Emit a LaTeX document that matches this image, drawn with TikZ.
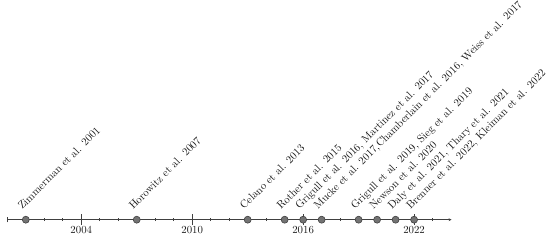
\documentclass[tikz,border=0pt]{standalone}
\usetikzlibrary{arrows.meta}
\begin{document}
\begin{tikzpicture}[x=1pt,y=1pt,
  txt/.style={font=\fontsize{10.8}{13}\selectfont, text=black!90},
  lab/.style={txt, rotate=45, anchor=base west, inner sep=0pt},
  yr/.style={txt, anchor=north, inner sep=0pt},
  dotc/.style={circle, fill=black!55, draw=black!75, line width=0.6pt, minimum size=7pt, inner sep=0pt},
  axisl/.style={draw=black!75, line width=0.65pt},
]
\useasboundingbox (0,0) rectangle (550,242);
\def\ax{22.3}
\pgfmathsetmacro{\xo}{7.3}
\pgfmathsetmacro{\dx}{18.49}
% axis
\coordinate (a0) at (\xo,\ax);
\coordinate (a1) at ({\xo+24*\dx+0.5},\ax);
\draw[axisl, -{Stealth[length=3pt,width=3pt]}] (a0) -- (a1);
% start tick
\draw[axisl] (\xo,\ax-2.7) -- (\xo,\ax+2.7);
% minor ticks
\foreach \y in {1,...,23} {
  \draw[axisl] ({\xo+\y*\dx},\ax-1.4) -- ({\xo+\y*\dx},\ax+1.4);
}
% major ticks and year labels
\foreach \y/\t in {4/2004,10/2010,16/2016,22/2022} {
  \draw[axisl] ({\xo+\y*\dx},\ax-5.3) -- ({\xo+\y*\dx},\ax+5.3);
  \node[yr] (y\t) at ({\xo+\y*\dx},\ax-6.3) {\t};
}
% events
\foreach \y/\n/\t in {
  1/e01/{Zimmerman et al. 2001},
  7/e07/{Horowitz et al. 2007},
  13/e13/{Celano et al. 2013},
  15/e15/{Rother et al. 2015},
  16/e16/{Grigull et al. 2016, Martinez et al. 2017},
  17/e17/{Mucke et al. 2017,Chamberlain et al. 2016, Weiss et al. 2017},
  19/e19/{Grigull et al. 2019, Sieg et al. 2019},
  20/e20/{Newson et al. 2020},
  21/e21/{Daly et al. 2021, Thary et al. 2021},
  22/e22/{Brenner et al. 2022, Kleiman et al. 2022}} {
  \node[dotc] (d\n) at ({\xo+\y*\dx},\ax) {};
  \node[lab] (l\n) at ({\xo+\y*\dx-3.6},\ax+9.7) {\t};
}
\end{tikzpicture}
\end{document}
